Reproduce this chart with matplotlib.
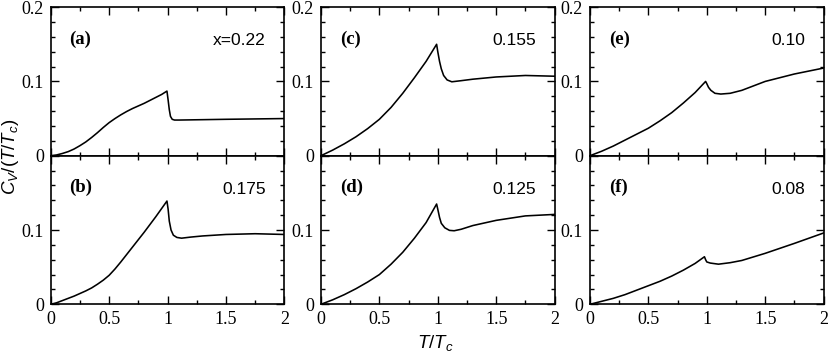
import matplotlib
matplotlib.use("Agg")
import matplotlib.pyplot as plt
from matplotlib.ticker import MultipleLocator, FixedLocator

plt.rcParams['mathtext.fontset'] = 'custom'
plt.rcParams['mathtext.it'] = 'Liberation Sans:italic'
plt.rcParams['mathtext.rm'] = 'Liberation Sans'

# ---- data (T/Tc, Cv/(T/Tc)) ----
T_a = [0, 0.05, 0.1, 0.15, 0.2, 0.25, 0.3, 0.35, 0.4, 0.45, 0.5, 0.55, 0.6, 0.65, 0.7, 0.75, 0.8, 0.85, 0.9, 0.95, 0.995,
       1.005, 1.015, 1.025, 1.04, 1.06, 1.1, 1.3, 1.5, 1.75, 2.0]
C_a = [0, 0.001, 0.003, 0.0055, 0.009, 0.0135, 0.0185, 0.0245, 0.031, 0.038, 0.0445, 0.050, 0.055, 0.0595, 0.0635, 0.067, 0.0705, 0.0745, 0.0785, 0.0825, 0.087,
       0.075, 0.062, 0.053, 0.049, 0.048, 0.048, 0.0485, 0.049, 0.0495, 0.050]

T_b = [0, 0.05, 0.1, 0.15, 0.2, 0.25, 0.3, 0.35, 0.4, 0.45, 0.5, 0.55, 0.6, 0.7, 0.8, 0.9, 0.995,
       1.005, 1.015, 1.03, 1.05, 1.08, 1.12, 1.2, 1.3, 1.5, 1.75, 2.0]
C_b = [0, 0.002, 0.005, 0.008, 0.011, 0.0145, 0.018, 0.022, 0.027, 0.0325, 0.039, 0.0475, 0.057, 0.077, 0.097, 0.118, 0.139,
       0.128, 0.112, 0.100, 0.093, 0.090, 0.089, 0.0905, 0.092, 0.094, 0.095, 0.094]

T_c = [0, 0.1, 0.2, 0.3, 0.4, 0.5, 0.6, 0.7, 0.8, 0.9, 0.99,
       1.0, 1.015, 1.03, 1.05, 1.08, 1.12, 1.2, 1.3, 1.5, 1.75, 2.0]
C_c = [0, 0.0075, 0.016, 0.0255, 0.0365, 0.049, 0.065, 0.084, 0.105, 0.127, 0.150,
       0.140, 0.127, 0.117, 0.108, 0.102, 0.0995, 0.101, 0.103, 0.106, 0.108, 0.107]

T_d = [0, 0.1, 0.2, 0.3, 0.4, 0.5, 0.6, 0.7, 0.8, 0.9, 0.99,
       1.0, 1.015, 1.03, 1.06, 1.1, 1.14, 1.2, 1.3, 1.5, 1.75, 2.0]
C_d = [0, 0.006, 0.013, 0.021, 0.030, 0.040, 0.054, 0.070, 0.089, 0.110, 0.135,
       0.128, 0.117, 0.109, 0.103, 0.0995, 0.099, 0.101, 0.106, 0.113, 0.119, 0.121]

T_e = [0, 0.1, 0.2, 0.3, 0.4, 0.5, 0.6, 0.7, 0.8, 0.9, 0.99,
       1.0, 1.015, 1.035, 1.07, 1.12, 1.2, 1.3, 1.4, 1.5, 1.75, 2.0]
C_e = [0, 0.006, 0.013, 0.021, 0.029, 0.037, 0.047, 0.058, 0.071, 0.085, 0.100,
       0.097, 0.092, 0.088, 0.084, 0.083, 0.084, 0.088, 0.094, 0.100, 0.110, 0.118]

T_f = [0, 0.1, 0.2, 0.3, 0.4, 0.5, 0.6, 0.7, 0.8, 0.9, 0.98,
       0.99, 1.0, 1.03, 1.1, 1.2, 1.3, 1.5, 1.75, 2.0]
C_f = [0, 0.004, 0.008, 0.013, 0.019, 0.025, 0.031, 0.038, 0.046, 0.055, 0.064,
       0.060, 0.057, 0.0555, 0.054, 0.056, 0.059, 0.0686, 0.082, 0.096]

panel_tags = ['(a)', '(b)', '(c)', '(d)', '(e)', '(f)']
panel_x = ['x=0.22', '0.175', '0.155', '0.125', '0.10', '0.08']
series = [(T_a, C_a), (T_b, C_b), (T_c, C_c), (T_d, C_d), (T_e, C_e), (T_f, C_f)]

x_ticks = [0, 0.5, 1, 1.5, 2]
x_ticklabels = ['0', '0.5', '1', '1.5', '2']

fig = plt.figure(figsize=(8.30, 3.61), dpi=100)

lefts = [0.0611, 0.3867, 0.7108]
width = 0.2815
bottoms = [0.5687, 0.1571]
height = 0.4115

serif = 'Liberation Serif'
sans = 'Liberation Sans'
tfs = 13

for i, (T, C) in enumerate(series):
    col = i // 2
    row = i % 2
    ax = fig.add_axes([lefts[col], bottoms[row], width, height])
    ax.plot(T, C, color='black', lw=1.15)
    ax.set_xlim(0, 2)
    ax.set_ylim(0, 0.2)
    ax.xaxis.set_major_locator(FixedLocator(x_ticks))
    ax.xaxis.set_minor_locator(MultipleLocator(0.25))
    ax.yaxis.set_major_locator(MultipleLocator(0.1))
    ax.yaxis.set_minor_locator(MultipleLocator(0.02))
    ax.tick_params(which='both', direction='in', top=True, right=True, width=1.0)
    ax.tick_params(which='major', length=5.5)
    ax.tick_params(which='minor', length=3)
    for sp in ax.spines.values():
        sp.set_linewidth(1.2)
    ax.set_yticks([0, 0.1, 0.2])
    if row == 0:
        ax.set_yticklabels(['0', '0.1', '0.2'], fontfamily=serif, fontsize=tfs)
        ax.set_xticklabels([])
    else:
        ax.set_yticklabels(['0', '0.1', ''], fontfamily=serif, fontsize=tfs)
        ax.set_xticklabels(x_ticklabels, fontfamily=serif, fontsize=tfs)
    ax.tick_params(axis='y', pad=5)
    ax.tick_params(axis='x', pad=5)
    ax.text(0.08, 0.785, panel_tags[i], transform=ax.transAxes, fontfamily=serif,
            fontweight='bold', fontsize=13.5, va='center', ha='left')
    ax.text(0.92, 0.775, panel_x[i], transform=ax.transAxes, fontfamily=sans,
            fontsize=12.5, va='center', ha='right')

fig.text(0.013, 0.565, r'$C_V/(T/T_c)$', rotation=90, va='center', ha='center', fontsize=13.5)
fig.text(0.525, 0.05, r'$T/T_c$', va='center', ha='center', fontsize=13.5)

fig.savefig('out.png', dpi=100)
